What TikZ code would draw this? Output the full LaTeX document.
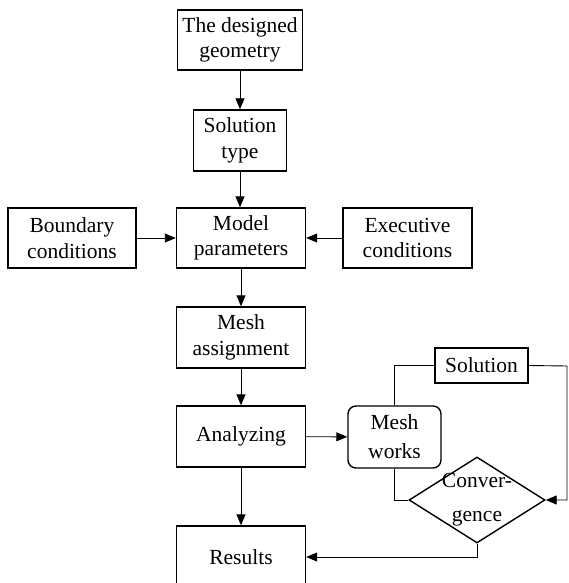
\documentclass[tikz,border=0pt]{standalone}
\usepackage{fontspec}
\setmainfont{Liberation Serif}
\usetikzlibrary{shapes.geometric,arrows.meta}
\begin{document}
\begin{tikzpicture}[x=1pt,y=-1pt,
  txt/.style={align=center,font=\fontsize{21.5}{25.5}\selectfont},
  box/.style={draw,line width=1.4pt,inner sep=0pt,txt},
  conn/.style={line width=0.9pt},
  arr/.style={conn,-{Triangle[length=11pt,width=9pt]}}]
\clip (0,0) rectangle (568,583);
\node[box,minimum width=125pt,minimum height=60pt] (geo) at (240,40) {The designed\\geometry};
\node[box,minimum width=93pt,minimum height=61pt] (sol) at (240,140.5) {Solution\\type};
\node[box,minimum width=129pt,minimum height=60pt] (model) at (241,238) {Model\\parameters};
\node[box,minimum width=128pt,minimum height=60pt] (bound) at (72,238) {Boundary\\conditions};
\node[box,minimum width=129pt,minimum height=60pt] (exec) at (407.5,238) {Executive\\conditions};
\node[box,minimum width=129pt,minimum height=61pt] (mesh) at (241,337.5) {Mesh\\assignment};
\node[box,minimum width=129pt,minimum height=61pt] (anal) at (241,436.5) {Analyzing};
\node[box,minimum width=129pt,minimum height=62pt] (res) at (241,557) {Results};
\node[box,rounded corners=8pt,minimum width=93pt,minimum height=62pt,font=\fontsize{21.5}{29}\selectfont] (meshw) at (394.5,437) {Mesh\\works};
\node[box,minimum width=93pt,minimum height=35pt] (soln) at (481.5,365.5) {Solution};
\node[diamond,draw,line width=1.4pt,inner sep=0pt,minimum width=136pt,minimum height=86pt,
  label={[txt,font=\fontsize{21.5}{34}\selectfont]center:Conver-\\gence}] (conv) at (477,500) {};
\coordinate (rc) at (567,366);
\draw[arr] (geo) -- (sol);
\draw[arr] (sol.south) -- (sol.south |- model.north);
\draw[arr] (bound) -- (model);
\draw[arr] (exec) -- (model);
\draw[arr] (model) -- (mesh);
\draw[arr] (mesh) -- (anal);
\draw[arr] (anal) -- (meshw);
\draw[arr] (anal) -- (res);
\draw[conn] (meshw.north) |- (soln.west);
\draw[arr] (soln.east) -- (rc) |- (conv.east);
\draw[conn] (meshw.south) |- (conv.west);
\draw[arr] (conv.south) |- (res.east);
\end{tikzpicture}
\end{document}
